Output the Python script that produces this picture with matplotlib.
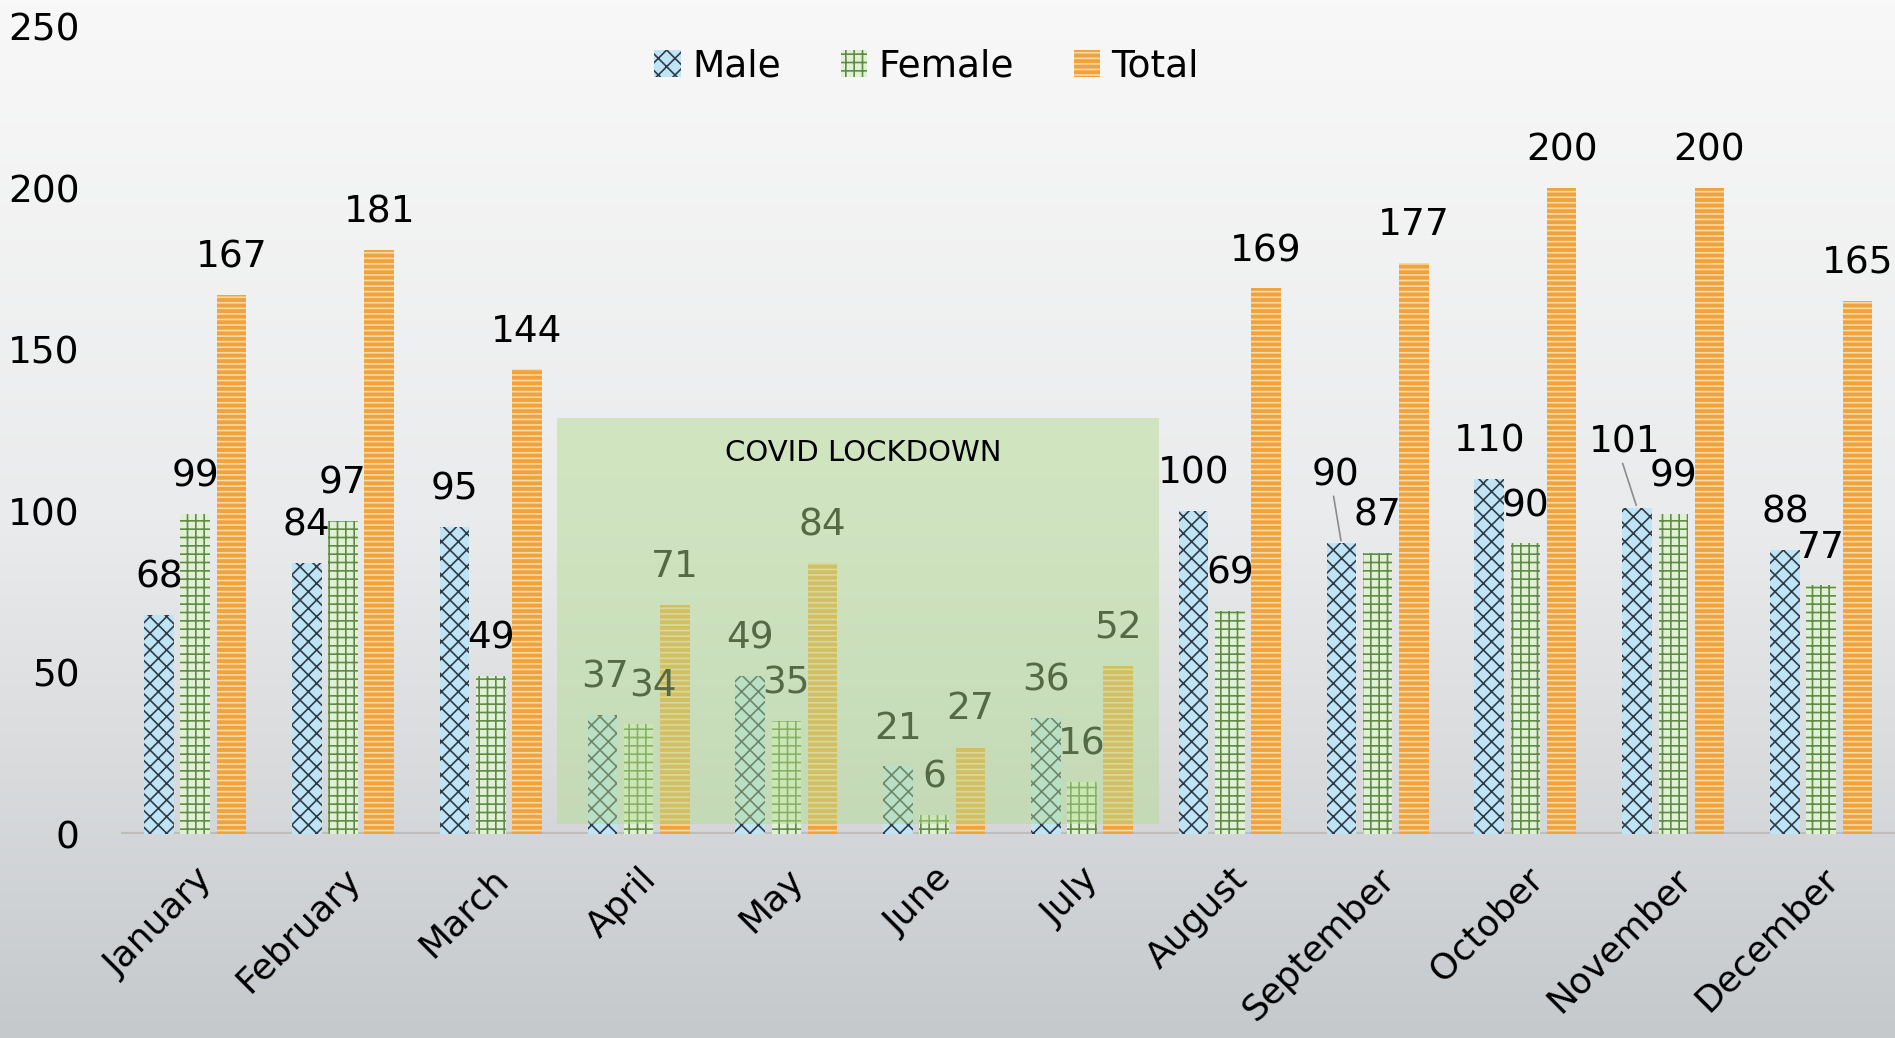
import numpy as np
import matplotlib.pyplot as plt
from matplotlib.patches import Rectangle
from matplotlib.colors import LinearSegmentedColormap

months = ['January', 'February', 'March', 'April', 'May', 'June',
          'July', 'August', 'September', 'October', 'November', 'December']
male = [68, 84, 95, 37, 49, 21, 36, 100, 90, 110, 101, 88]
female = [99, 97, 49, 34, 35, 6, 16, 69, 87, 90, 99, 77]
total = [167, 181, 144, 71, 84, 27, 52, 169, 177, 200, 200, 165]
yticks = [0, 50, 100, 150, 200, 250]

plt.rcParams['font.family'] = ['DejaVu Sans']
plt.rcParams['hatch.linewidth'] = 1.2

fig = plt.figure(figsize=(18.95, 10.38), dpi=100)

# background gradient
bg = fig.add_axes([0, 0, 1, 1], zorder=-10)
grad = np.linspace(0, 1, 256).reshape(-1, 1)
cmap = LinearSegmentedColormap.from_list('bg', ['#f8f8f8', '#eaebec', '#c6c9cc'])
bg.imshow(grad, aspect='auto', cmap=cmap, extent=[0, 1, 0, 1])
bg.axis('off')

ax = fig.add_axes([0.064, 0.1965, 0.936, 0.7775])
ax.patch.set_alpha(0)

x = np.arange(len(months))
w = 0.2
off = 0.245
series = [
    (male, 'Male', '#bfe4f6', '#2f3b45', 'xx', -off),
    (female, 'Female', '#e0f0d4', '#5f8a47', '++', 0),
    (total, 'Total', '#f0a33c', '#f8d9a8', '---', off),
]
for vals, name, fc, hc, hatch, dx in series:
    ax.bar(x + dx, vals, w, color=fc, edgecolor=hc, hatch=hatch, linewidth=0,
           label=name, zorder=2)

# data labels (a few nudged as in the original)
nudge = {('Male', 8): (-4, 22), ('Male', 10): (-9, 20),
         ('Male', 3): (2, 0), ('Female', 3): (10, 0)}
for vals, name, fc, hc, hatch, dx in series:
    for i, v in enumerate(vals):
        ox, oy = nudge.get((name, i), (0, 0))
        ax.annotate(str(v), (x[i] + dx, v), xytext=(ox, 14 + oy),
                    textcoords='offset points', ha='center', va='bottom',
                    fontsize=27, color='black', zorder=3)
        if oy > 10:
            # leader line for labels moved away from their bar
            ax.annotate('', (x[i] + dx, v), xytext=(ox - 2, 14 + oy),
                        textcoords='offset points',
                        arrowprops=dict(arrowstyle='-', color='#8c8c8c', lw=1.2),
                        zorder=3)

# lockdown box
ax.add_patch(Rectangle((2.45, 3), 4.07, 126, facecolor='#b3dc90', alpha=0.48,
                       edgecolor='none', zorder=4))
ax.text(4.52, 118, 'COVID LOCKDOWN', ha='center', va='center', fontsize=21,
        color='black', zorder=5)

ax.axhline(0, color='#bdbdbd', linewidth=3, zorder=1)
ax.set_xlim(-0.5, 11.5)
ax.set_ylim(0, 250)
ax.set_yticks(yticks)
ax.set_yticklabels([str(t) for t in yticks], fontsize=27)
ax.set_xticks(x)
ax.set_xticklabels(months, rotation=45, ha='right', rotation_mode='anchor',
                   fontsize=26)
ax.tick_params(length=0)
ax.tick_params(axis='x', pad=20)
ax.tick_params(axis='y', pad=30)
for s in ax.spines.values():
    s.set_visible(False)

ax.legend(loc='upper center', bbox_to_anchor=(0.454, 1.015), ncol=3, frameon=False,
          fontsize=27, handlelength=0.7, handleheight=0.7, columnspacing=1.6,
          handletextpad=0.3)

fig.savefig('out.png', dpi=100)
